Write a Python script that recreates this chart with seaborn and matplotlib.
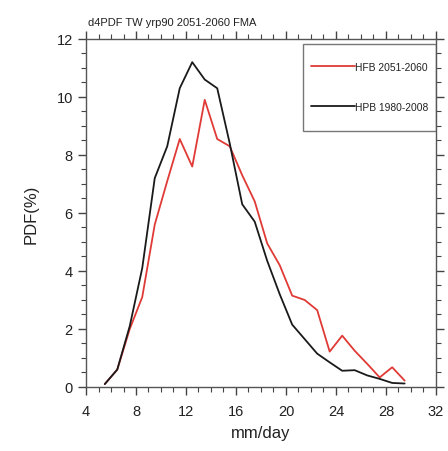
import numpy as np
import pandas as pd
import matplotlib
matplotlib.use("Agg")
import matplotlib.pyplot as plt
from matplotlib.patches import Rectangle
from matplotlib.ticker import MultipleLocator
import seaborn as sns

# ---- data ----
bins = [5.5, 6.5, 7.5, 8.5, 9.5, 10.5, 11.5, 12.5, 13.5, 14.5, 15.5, 16.5, 17.5,
        18.5, 19.5, 20.5, 21.5, 22.5, 23.5, 24.5, 25.5, 26.5, 27.5, 28.5, 29.5]
hfb = [0.1, 0.6, 2.0, 3.1, 5.6, 7.1, 8.55, 7.6, 9.9, 8.55, 8.3, 7.3, 6.4,
       4.95, 4.2, 3.15, 3.0, 2.65, 1.22, 1.77, 1.25, 0.8, 0.33, 0.68, 0.22]
hpb = [0.1, 0.6, 2.1, 4.1, 7.2, 8.3, 10.3, 11.2, 10.6, 10.3, 8.4, 6.3, 5.7,
       4.35, 3.2, 2.15, 1.65, 1.15, 0.85, 0.56, 0.58, 0.4, 0.28, 0.14, 0.12]
series_names = ["HFB 2051-2060", "HPB 1980-2008"]
title = "d4PDF TW yrp90 2051-2060 FMA"

df = pd.DataFrame({
    "x": bins * 2,
    "y": hfb + hpb,
    "series": [series_names[0]] * len(bins) + [series_names[1]] * len(bins),
})

sns.set_style("ticks")
plt.rcParams["font.family"] = ["Liberation Sans", "DejaVu Sans"]

fig = plt.figure(figsize=(4.48, 4.52), dpi=100)
ax = fig.add_axes([0.192, 0.1416, 0.781, 0.770])

sns.lineplot(data=df, x="x", y="y", hue="series",
             palette={series_names[0]: "#e03a36", series_names[1]: "#1a1a1a"},
             linewidth=1.3, ax=ax, legend=True)

ax.set_xlim(4, 32)
ax.set_ylim(0, 12)
ax.xaxis.set_major_locator(MultipleLocator(4))
ax.xaxis.set_minor_locator(MultipleLocator(1))
ax.yaxis.set_major_locator(MultipleLocator(2))
ax.yaxis.set_minor_locator(MultipleLocator(0.5))
ax.tick_params(which="both", direction="out", top=True, right=True,
               colors="#444444", labelcolor="#222222")
ax.tick_params(which="major", length=6, width=1.0, labelsize=10.5)
ax.tick_params(axis="x", which="major", pad=6)
ax.tick_params(which="minor", length=3.5, width=0.8)
for s in ax.spines.values():
    s.set_visible(True)
    s.set_color("#555555")
    s.set_linewidth(1.0)

ax.set_xlabel("mm/day", fontsize=12, color="#222222", labelpad=5)
ax.set_ylabel("PDF(%)", fontsize=12, color="#222222", labelpad=13)

fig.text(0.196, 0.9425, title, fontsize=8, color="#222222", ha="left", va="baseline")

# legend box
ax.add_patch(Rectangle((0.62, 0.7356), 0.38, 0.25, transform=ax.transAxes,
                       fill=False, edgecolor="#777777", linewidth=1.0, zorder=5))
leg = ax.legend(loc="center", bbox_to_anchor=(0.81, 0.862), frameon=False,
                fontsize=7.4, handlelength=4.3, handletextpad=0.0,
                labelspacing=2.9, borderpad=0.2, title=None)
for t in leg.get_texts():
    t.set_color("#222222")

fig.savefig("out.png", dpi=100)
